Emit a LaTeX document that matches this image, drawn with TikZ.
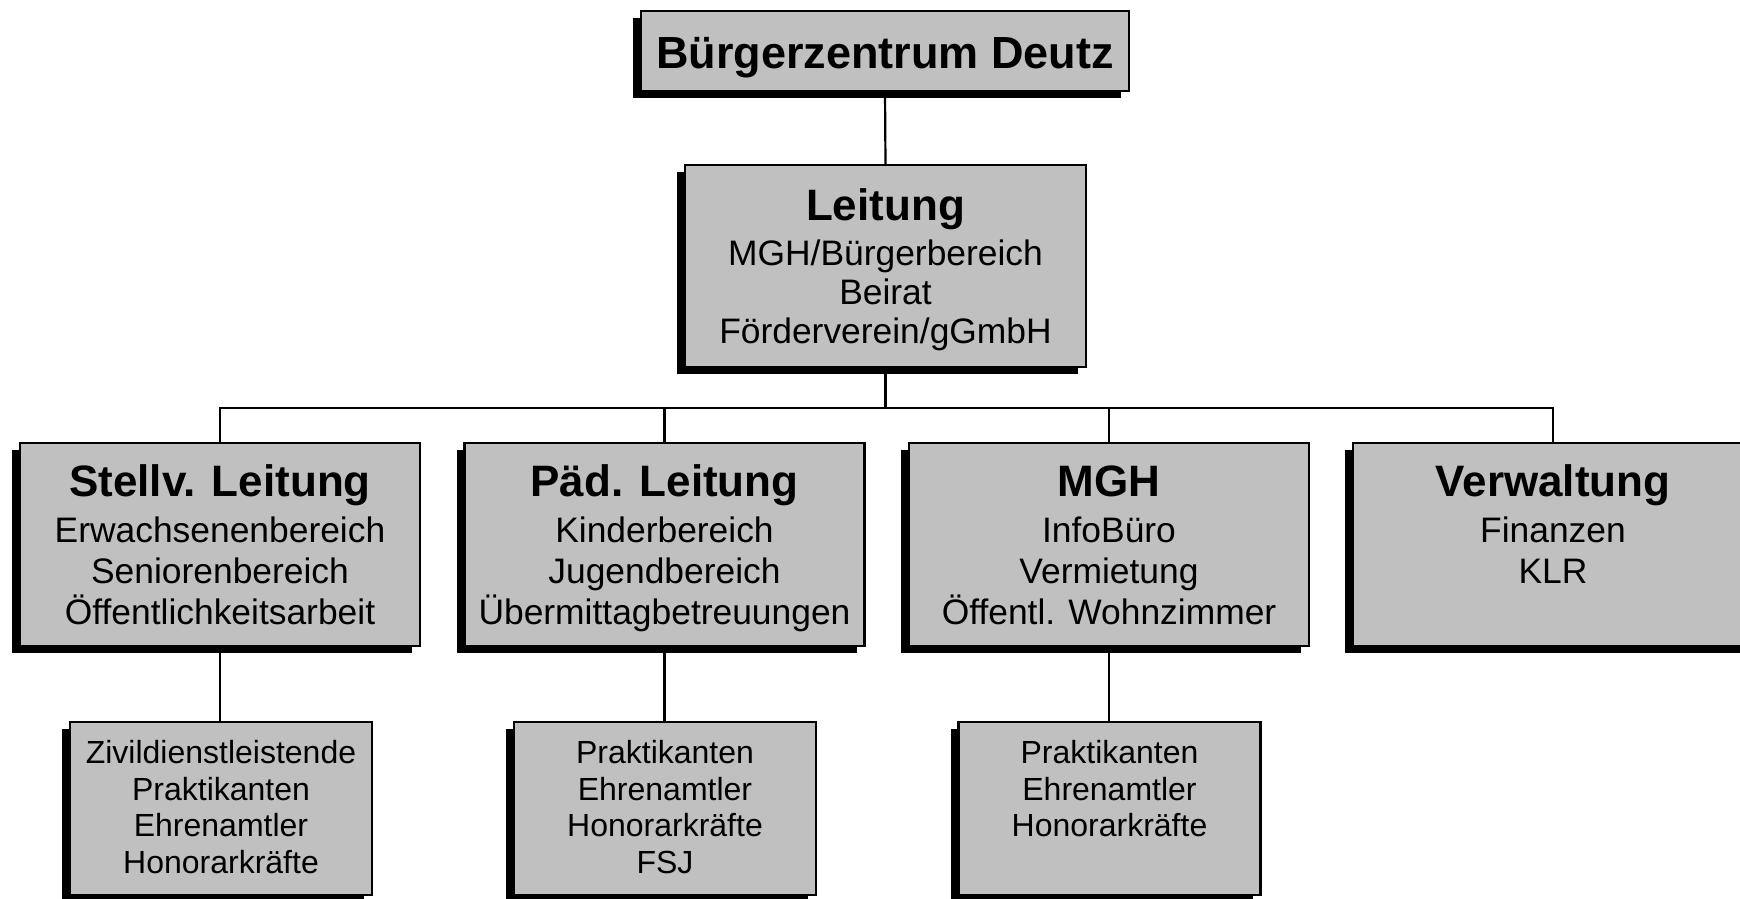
\documentclass[tikz,border=0pt]{standalone}
\usepackage{fontspec}
\setmainfont{Liberation Sans}
\usetikzlibrary{shadows}
\definecolor{boxgray}{RGB}{192,192,192}
\tikzset{
  orgbox/.style={draw=black, line width=2.2pt, fill=boxgray, inner sep=0pt, outer sep=0pt,
    drop shadow={shadow xshift=-8pt, shadow yshift=-7pt, fill=black, opacity=1}},
  lvltwo/.style={orgbox, minimum width=400pt, minimum height=203pt},
  lvlthree/.style={orgbox, minimum width=302pt, minimum height=173pt},
  titletxt/.style={anchor=base, inner sep=0pt, font=\fontsize{45}{54}\selectfont\bfseries},
  headtxt/.style={anchor=base, inner sep=0pt, font=\fontsize{44}{50}\selectfont\bfseries},
  bodytxt/.style={anchor=north, inner sep=0pt, align=center, font=\fontsize{35.4}{41}\selectfont},
  leitbody/.style={anchor=north, inner sep=0pt, align=center, font=\fontsize{35.4}{39}\selectfont},
  smalltxt/.style={anchor=north, inner sep=0pt, align=center, font=\fontsize{32}{36.5}\selectfont},
  conn/.style={draw=black, line width=2.2pt}
}
\begin{document}
\begin{tikzpicture}[x=1pt,y=-1pt]
\clip (0,0) rectangle (1740,899);
\fill[white] (0,0) rectangle (1740,899);
\coordinate (bus) at (885.5,408);
% boxes
\node[orgbox, minimum width=488pt, minimum height=80pt] (top) at (885,51) {};
\node[orgbox, minimum width=401pt, minimum height=202pt] (leit) at (885.5,266) {};
\node[lvltwo] (b1) at (220,544.5) {};
\node[lvltwo] (b2) at (664.5,544.5) {};
\node[lvltwo] (b3) at (1109,544.5) {};
\node[lvltwo] (b4) at (1553,544.5) {};
\node[lvlthree] (c1) at (221,808.5) {};
\node[lvlthree] (c2) at (665,808.5) {};
\node[lvlthree] (c3) at (1109.5,808.5) {};
% connectors
\draw[conn] (top.south) -- (leit.north);
\draw[conn] (leit.south) -- (bus);
\draw[conn] (bus) -| (b1.north);
\draw[conn] (bus) -| (b2.north);
\draw[conn] (bus) -| (b3.north);
\draw[conn] (bus) -| (b4.north);
\draw[conn] (b1.south) -- (b1.south |- c1.north);
\draw[conn] (b2.south) -- (b2.south |- c2.north);
\draw[conn] (b3.south) -- (b3.south |- c3.north);
% texts
\node[titletxt] (topt) at (885,68) {Bürgerzentrum Deutz};
\node[headtxt] (leith) at (885.5,220) {Leitung};
\node[leitbody] (leitb) at (885.5,239.5) {MGH/Bürgerbereich\\Beirat\\Förderverein/gGmbH};
\node[headtxt] (b1h) at (220,496) {Stellv. Leitung};
\node[bodytxt] (b1b) at (220,516.5) {Erwachsenenbereich\\Seniorenbereich\\Öffentlichkeitsarbeit};
\node[headtxt] (b2h) at (664.5,496) {Päd. Leitung};
\node[bodytxt] (b2b) at (664.5,516.5) {Kinderbereich\\Jugendbereich\\Übermittagbetreuungen};
\node[headtxt] (b3h) at (1109,496) {MGH};
\node[bodytxt] (b3b) at (1109,516.5) {InfoBüro\\Vermietung\\Öffentl. Wohnzimmer};
\node[headtxt] (b4h) at (1553,496) {Verwaltung};
\node[bodytxt] (b4b) at (1553,516.5) {Finanzen\\KLR};
\node[smalltxt] (c1b) at (221,740.6) {Zivildienstleistende\\Praktikanten\\Ehrenamtler\\Honorarkräfte};
\node[smalltxt] (c2b) at (665,740.6) {Praktikanten\\Ehrenamtler\\Honorarkräfte\\FSJ};
\node[smalltxt] (c3b) at (1109.5,740.6) {Praktikanten\\Ehrenamtler\\Honorarkräfte};
\end{tikzpicture}
\end{document}
